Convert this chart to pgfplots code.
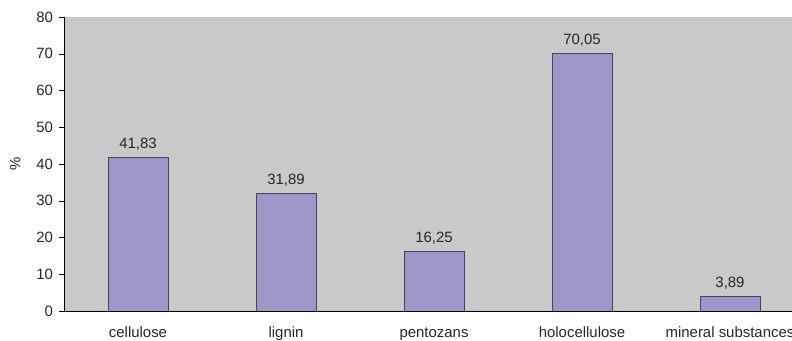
\documentclass[border=0pt]{standalone}
\usepackage{pgfplots}
\pgfplotsset{compat=1.18}
\usepackage{fontspec}
\setmainfont{Liberation Sans}
\definecolor{plotbg}{RGB}{200,201,203}
\definecolor{barfill}{RGB}{156,150,201}
\definecolor{baredge}{RGB}{70,70,80}
\begin{document}
\begin{tikzpicture}[x=1bp,y=1bp]
\begin{axis}[
  at={(64bp,30bp)}, anchor=south west,
  scale only axis, width=740bp, height=294bp,
  xmin=-0.5, xmax=4.5, ymin=0, ymax=80,
  ytick={0,10,...,80},
  xtick={0,1,2,3,4},
  xticklabels={cellulose,lignin,pentozans,holocellulose,mineral substances},
  x tick style={draw=none},
  extra x ticks={-0.5,0.5,1.5,2.5,3.5},
  extra x tick labels={},
  extra x tick style={tick align=outside, major tick length=5bp, tick style={draw=black}},
  y tick style={draw=black},
  tick align=outside, major tick length=4.5bp,
  axis x line*=bottom, axis y line*=left,
  axis line style={black, -},
  axis background/.style={fill=plotbg},
  ybar, bar width=60bp,
  ylabel={\%},
  ylabel style={at={(axis description cs:-0.066,0.5)}, anchor=center},
  tick label style={font=\fontsize{15}{17}\selectfont, text=black!85},
  label style={font=\fontsize{15}{17}\selectfont, text=black!85},
  yticklabel style={xshift=-3bp},
  xticklabel style={anchor=base, yshift=-22bp},
  /pgf/number format/assume math mode=true,
  nodes near coords,
  nodes near coords style={font=\fontsize{15}{17}\selectfont, text=black!85,
    /pgf/number format/fixed, /pgf/number format/fixed zerofill,
    /pgf/number format/precision=2, /pgf/number format/use comma, yshift=3.5bp},
]
\addplot[fill=barfill, draw=baredge, line width=0.8bp] coordinates {(0,41.83) (1,31.89) (2,16.25) (3,70.05) (4,3.89)};
\end{axis}
\pgfresetboundingbox
\path (0,0) rectangle (792bp,341bp);
\end{tikzpicture}
\end{document}
